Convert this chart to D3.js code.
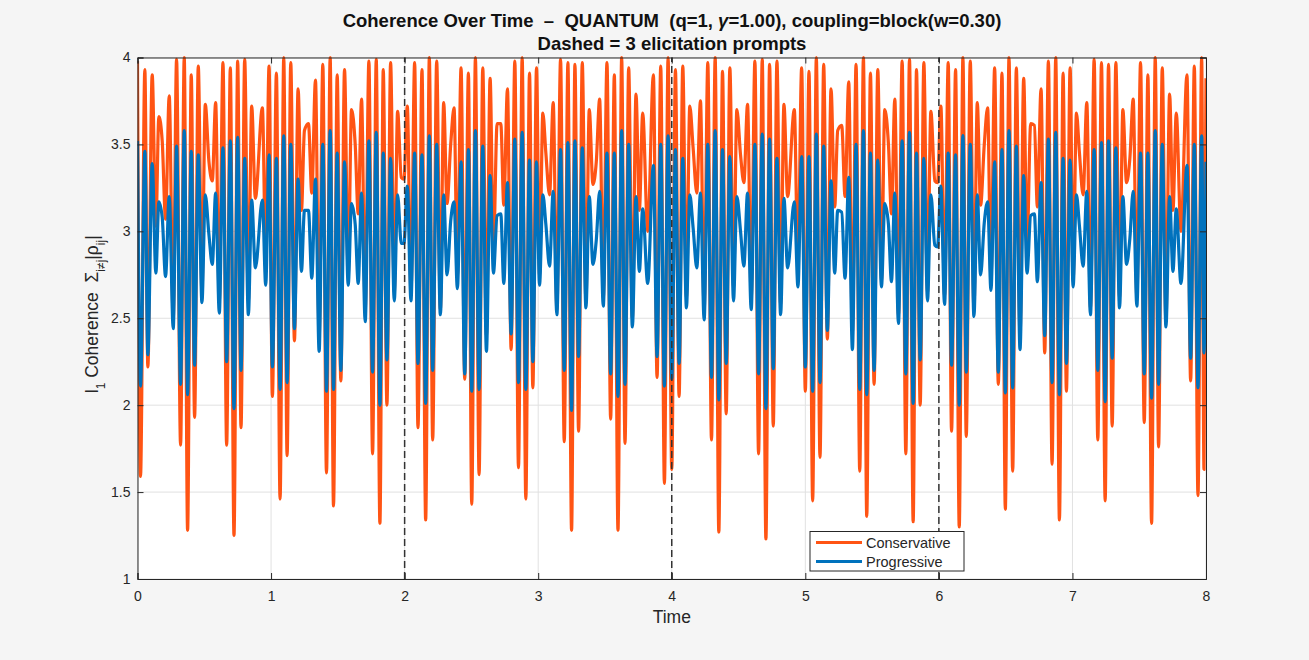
<!DOCTYPE html>
<html lang="en">
<head>
<meta charset="utf-8">
<title>Coherence Over Time</title>
<script src="https://cdn.jsdelivr.net/npm/d3@7"></script>
<style>
  body { margin: 0; background: #f5f5f5; }
  svg { font-family: "Liberation Sans", Arial, sans-serif; }
</style>
</head>
<body>
<script>
// turning points, t = 0..4
var timeA = [
  0, 0.0225, 0.055, 0.0775, 0.11, 0.1375, 0.16, 0.185, 0.21, 0.2375, 0.2675, 0.2925, 0.3225, 0.35, 0.375, 0.4025, 0.4275, 0.455, 0.4825, 0.5075, 0.535, 0.56, 0.585, 0.6125, 0.64, 0.6675, 0.695, 0.7225, 0.75, 0.775, 0.8025, 0.83, 0.855, 0.8825, 0.935, 0.96, 0.985,
  1.01, 1.04, 1.0675, 1.095, 1.12, 1.1475, 1.175, 1.2025, 1.2275, 1.25, 1.28, 1.305, 1.3325, 1.36, 1.3875, 1.415, 1.4425, 1.4675, 1.495, 1.5225, 1.55, 1.5775, 1.6025, 1.63, 1.6525, 1.6775, 1.705, 1.7325, 1.76, 1.7875, 1.815, 1.84, 1.8675, 1.895, 1.9225, 1.9475, 1.975, 1.995,
  2.02, 2.0475, 2.075, 2.10, 2.13, 2.1575, 2.185, 2.21, 2.24, 2.2675, 2.2925, 2.3175, 2.345, 2.37, 2.395, 2.4225, 2.45, 2.4775, 2.5025, 2.53, 2.5575, 2.585, 2.6125, 2.64, 2.665, 2.6925, 2.72, 2.7425, 2.77, 2.7975, 2.825, 2.8525, 2.88, 2.9075, 2.935, 2.96, 2.9875,
  3.01, 3.035, 3.0575, 3.085, 3.1125, 3.14, 3.1675, 3.195, 3.2225, 3.25, 3.275, 3.3025, 3.33, 3.3575, 3.3825, 3.41, 3.435, 3.46, 3.4875, 3.515, 3.5425, 3.57, 3.5975, 3.625, 3.65, 3.6775, 3.705, 3.7325, 3.7575, 3.7825, 3.82, 3.8625, 3.89, 3.9175, 3.945, 3.9725, 4.0
];
var conservativeA = [
  3.98, 1.59, 3.93, 2.22, 3.90, 3.03, 3.66, 3.52, 3.07, 3.78, 2.50, 3.99, 1.77, 4.00, 1.28, 3.90, 1.93, 3.95, 2.65, 3.73, 3.40, 3.29, 3.74, 2.60, 3.97, 1.77, 3.94, 1.25, 3.98, 1.87, 3.99, 2.60, 3.72, 3.19, 3.71, 2.85, 3.95,
  2.05, 3.91, 1.46, 4.00, 1.71, 3.97, 2.37, 3.82, 3.12, 3.58, 3.62, 3.22, 3.87, 2.40, 3.96, 1.61, 4.00, 1.42, 3.90, 2.14, 3.93, 2.75, 3.70, 3.50, 3.10, 3.76, 2.55, 3.98, 1.72, 3.99, 1.32, 3.93, 2.00, 3.97, 2.65, 3.69, 3.31, 3.30,
  3.72, 2.65, 3.97, 1.87, 3.93, 1.34, 4.00, 1.80, 3.98, 2.55, 3.74, 3.16, 3.50, 3.71, 2.75, 3.94, 2.15, 3.91, 1.43, 4.00, 1.60, 3.94, 2.40, 3.88, 2.90, 3.62, 3.62, 3.15, 3.82, 2.32, 3.98, 1.64, 4.00, 1.46, 3.91, 2.10, 3.94,
  2.75, 3.68, 3.45, 3.21, 3.74, 2.55, 3.99, 1.79, 3.97, 1.28, 3.96, 1.85, 3.97, 2.60, 3.70, 3.27, 3.40, 3.76, 2.62, 3.97, 1.92, 3.90, 1.28, 4.00, 1.78, 3.94, 2.50, 3.79, 3.12, 3.68, 3.00, 3.90, 2.16, 3.95, 1.55, 4.00, 1.63
];
var progressiveA = [
  3.52, 2.11, 3.46, 2.29, 3.39, 2.76, 3.17, 3.08, 2.74, 3.20, 2.44, 3.49, 2.12, 3.58, 2.06, 3.46, 2.23, 3.44, 2.59, 3.21, 2.98, 2.81, 3.22, 2.53, 3.48, 2.25, 3.52, 1.98, 3.54, 2.20, 3.42, 2.52, 3.18, 2.79, 3.18, 2.69, 3.44,
  2.22, 3.42, 2.09, 3.55, 2.13, 3.50, 2.44, 3.30, 2.77, 3.12, 3.12, 2.73, 3.30, 2.31, 3.50, 2.08, 3.58, 2.09, 3.45, 2.20, 3.40, 2.69, 3.16, 3.04, 2.70, 3.22, 2.48, 3.52, 2.19, 3.57, 2.00, 3.45, 2.26, 3.42, 2.60, 3.21, 2.93, 2.93,
  3.26, 2.60, 3.45, 2.24, 3.44, 2.01, 3.55, 2.20, 3.50, 2.52, 3.21, 2.75, 3.06, 3.17, 2.67, 3.40, 2.18, 3.47, 2.08, 3.58, 2.09, 3.49, 2.31, 3.32, 2.76, 3.09, 3.10, 2.70, 3.28, 2.41, 3.53, 2.13, 3.57, 2.09, 3.41, 2.25, 3.40,
  2.69, 3.21, 3.04, 2.80, 3.23, 2.52, 3.47, 2.20, 3.51, 1.97, 3.52, 2.28, 3.48, 2.56, 3.20, 2.81, 2.95, 3.23, 2.57, 3.45, 2.18, 3.45, 2.05, 3.58, 2.12, 3.50, 2.45, 3.20, 2.77, 3.13, 2.70, 3.38, 2.28, 3.50, 2.11, 3.55, 2.15
];

// turning points, t = 4..8
var timeB = [
  4.0275, 4.055, 4.0825, 4.11, 4.135, 4.16, 4.1875, 4.215, 4.2425, 4.27, 4.2975, 4.325, 4.3525, 4.38, 4.4075, 4.435, 4.4625, 4.4875, 4.515, 4.54, 4.5675, 4.595, 4.6225, 4.65, 4.6775, 4.705, 4.7325, 4.76, 4.7875, 4.815, 4.84, 4.8675, 4.9175, 4.945, 4.9725,
  5.0, 5.0275, 5.055, 5.0825, 5.11, 5.1375, 5.165, 5.1925, 5.22, 5.2425, 5.2725, 5.2975, 5.325, 5.3525, 5.38, 5.4075, 5.435, 5.46, 5.4875, 5.515, 5.5425, 5.57, 5.595, 5.6225, 5.645, 5.67, 5.6975, 5.725, 5.7525, 5.78, 5.8075, 5.8325, 5.86, 5.8875, 5.915, 5.94, 5.97, 5.99,
  6.015, 6.0425, 6.07, 6.095, 6.125, 6.1525, 6.18, 6.205, 6.235, 6.2625, 6.2875, 6.3125, 6.34, 6.365, 6.39, 6.4175, 6.445, 6.4725, 6.4975, 6.525, 6.5525, 6.58, 6.6075, 6.635, 6.66, 6.6875, 6.715, 6.7375, 6.765, 6.7925, 6.82, 6.8475, 6.875, 6.9025, 6.93, 6.955, 6.9825,
  7.005, 7.03, 7.0525, 7.08, 7.1075, 7.135, 7.1625, 7.19, 7.2175, 7.245, 7.27, 7.2975, 7.325, 7.3525, 7.3775, 7.405, 7.43, 7.455, 7.4825, 7.51, 7.5375, 7.565, 7.5925, 7.62, 7.645, 7.6725, 7.7, 7.7275, 7.7525, 7.7775, 7.8125, 7.8575, 7.885, 7.9125, 7.94, 7.9675, 7.985, 8.0
];
var conservativeB = [
  3.93, 2.05, 3.95, 2.62, 3.72, 3.48, 3.22, 3.75, 2.55, 3.97, 1.80, 4.00, 1.27, 3.92, 1.95, 3.94, 2.68, 3.70, 3.44, 3.28, 3.73, 2.62, 3.98, 1.72, 3.99, 1.23, 3.96, 1.88, 3.98, 2.58, 3.73, 3.20, 3.70, 2.80, 3.94,
  2.08, 3.92, 1.45, 4.00, 1.70, 3.96, 2.38, 3.82, 3.14, 3.58, 3.61, 3.20, 3.86, 2.42, 3.96, 1.62, 4.00, 1.36, 3.91, 2.12, 3.93, 2.72, 3.70, 3.50, 3.10, 3.76, 2.52, 3.98, 1.72, 3.99, 1.33, 3.93, 2.00, 3.97, 2.65, 3.69, 3.29, 3.28,
  3.72, 2.63, 3.97, 1.85, 3.93, 1.30, 4.00, 1.82, 3.98, 2.55, 3.74, 3.15, 3.50, 3.71, 2.73, 3.94, 2.12, 3.91, 1.40, 4.00, 1.62, 3.94, 2.40, 3.88, 2.92, 3.62, 3.61, 3.14, 3.82, 2.30, 3.98, 1.66, 4.00, 1.34, 3.91, 2.08, 3.94,
  2.72, 3.68, 3.45, 3.21, 3.74, 2.56, 3.99, 1.80, 3.97, 1.45, 3.96, 1.88, 3.97, 2.62, 3.70, 3.28, 3.42, 3.76, 2.62, 3.97, 1.90, 3.90, 1.32, 4.00, 1.76, 3.94, 2.48, 3.79, 3.12, 3.68, 3.00, 3.90, 2.14, 3.95, 1.48, 4.00, 1.63, 3.88
];
var progressiveB = [
  3.47, 2.24, 3.42, 2.56, 3.21, 3.02, 2.79, 3.22, 2.49, 3.50, 2.16, 3.58, 2.03, 3.47, 2.24, 3.43, 2.60, 3.20, 3.00, 2.80, 3.22, 2.55, 3.50, 2.18, 3.56, 1.98, 3.53, 2.21, 3.42, 2.52, 3.19, 2.79, 3.17, 2.68, 3.43,
  2.22, 3.43, 2.08, 3.56, 2.13, 3.49, 2.43, 3.29, 2.76, 3.12, 3.11, 2.73, 3.31, 2.32, 3.50, 2.09, 3.58, 2.06, 3.45, 2.20, 3.41, 2.68, 3.16, 3.04, 2.71, 3.22, 2.47, 3.52, 2.18, 3.57, 2.01, 3.45, 2.26, 3.42, 2.60, 3.21, 2.92, 2.91,
  3.26, 2.58, 3.45, 2.23, 3.44, 2.00, 3.55, 2.19, 3.50, 2.51, 3.21, 2.75, 3.05, 3.17, 2.66, 3.40, 2.19, 3.47, 2.07, 3.58, 2.10, 3.49, 2.32, 3.32, 2.76, 3.09, 3.10, 2.71, 3.28, 2.40, 3.53, 2.13, 3.57, 2.06, 3.42, 2.24, 3.41,
  2.68, 3.21, 3.03, 2.80, 3.23, 2.52, 3.47, 2.20, 3.51, 2.02, 3.52, 2.27, 3.48, 2.56, 3.20, 2.81, 2.96, 3.23, 2.57, 3.45, 2.18, 3.45, 2.04, 3.58, 2.12, 3.50, 2.45, 3.20, 2.77, 3.13, 2.70, 3.38, 2.27, 3.50, 2.10, 3.55, 2.30, 3.40
];

var promptTimes = [2, 4, 6];
var xTicks = [0, 1, 2, 3, 4, 5, 6, 7, 8];
var yTicks = [1, 1.5, 2, 2.5, 3, 3.5, 4];
var seriesNames = ["Conservative", "Progressive"];
var seriesColors = ["#ff5414", "#0072bd"];

var timePts = timeA.concat(timeB);
var conservative = conservativeA.concat(conservativeB);
var progressive = progressiveA.concat(progressiveB);

var W = 1309, H = 660;
var margin = {left: 137.5, right: 103, top: 57.5, bottom: 81};

var svg = d3.select("body").append("svg")
  .attr("width", W).attr("height", H);

svg.append("rect").attr("width", W).attr("height", H).attr("fill", "#f5f5f5");

var x = d3.scaleLinear().domain([0, 8]).range([margin.left, W - margin.right]);
var y = d3.scaleLinear().domain([1, 4]).range([H - margin.bottom, margin.top]);

// axes box
svg.append("rect")
  .attr("x", x(0)).attr("y", y(4))
  .attr("width", x(8) - x(0)).attr("height", y(1) - y(4))
  .attr("fill", "#ffffff");

// grid
svg.append("g").selectAll("line").data(xTicks).join("line")
  .attr("x1", d => x(d)).attr("x2", d => x(d))
  .attr("y1", y(1)).attr("y2", y(4))
  .attr("stroke", "#e1e1e1").attr("stroke-width", 1);
svg.append("g").selectAll("line").data(yTicks).join("line")
  .attr("x1", x(0)).attr("x2", x(8))
  .attr("y1", d => y(d)).attr("y2", d => y(d))
  .attr("stroke", "#e1e1e1").attr("stroke-width", 1);

svg.append("clipPath").attr("id", "plotclip").append("rect")
  .attr("x", x(0)).attr("y", y(4) - 2)
  .attr("width", x(8) - x(0)).attr("height", y(1) - y(4) + 4);

var line = d3.line().curve(d3.curveMonotoneX);
var plot = svg.append("g").attr("clip-path", "url(#plotclip)");

[conservative, progressive].forEach(function(vals, k) {
  var pts = [];
  timePts.forEach(function(t, i) {
    if (vals[i] !== undefined) pts.push([x(t), y(vals[i])]);
  });
  plot.append("path")
    .attr("d", line(pts))
    .attr("fill", "none")
    .attr("stroke", seriesColors[k])
    .attr("stroke-width", 3.2)
    .attr("stroke-linejoin", "round");
});

// prompt markers
svg.append("g").selectAll("line").data(promptTimes).join("line")
  .attr("x1", d => x(d)).attr("x2", d => x(d))
  .attr("y1", y(1)).attr("y2", y(4))
  .attr("stroke", "#333").attr("stroke-width", 1.5)
  .attr("stroke-dasharray", "7,4");

// axes lines + inward ticks (box on)
var axisB = d3.axisBottom(x).tickValues(xTicks).tickSize(-6).tickPadding(12).tickFormat(d3.format("d"));
var axisT = d3.axisTop(x).tickValues(xTicks).tickSize(-6).tickFormat("");
var axisL = d3.axisLeft(y).tickValues(yTicks).tickSize(-6).tickPadding(7).tickFormat(d => d);
var axisR = d3.axisRight(y).tickValues(yTicks).tickSize(-6).tickFormat("");

function styleAxis(g) {
  g.select(".domain").attr("stroke", "#262626").attr("stroke-width", 1);
  g.selectAll(".tick line").attr("stroke", "#262626");
  g.selectAll("text").attr("fill", "#262626").style("font-size", "14px")
    .style("font-family", "'Liberation Sans', Arial, sans-serif");
}
svg.append("g").attr("transform", "translate(0," + y(1) + ")").call(axisB).call(styleAxis);
svg.append("g").attr("transform", "translate(0," + y(4) + ")").call(axisT).call(styleAxis);
svg.append("g").attr("transform", "translate(" + x(0) + ",0)").call(axisL).call(styleAxis);
svg.append("g").attr("transform", "translate(" + x(8) + ",0)").call(axisR).call(styleAxis);

// titles
var t1 = svg.append("text").attr("x", 672).attr("y", 27).attr("text-anchor", "middle")
  .attr("xml:space", "preserve").style("white-space", "pre")
  .style("font-size", "18.5px").style("font-weight", "bold").attr("fill", "#111");
t1.append("tspan").text("Coherence Over Time  \u2013  QUANTUM  (q=1, ");
t1.append("tspan").style("font-style", "italic").text("\u03b3");
t1.append("tspan").text("=1.00), coupling=block(w=0.30)");
svg.append("text").attr("x", 672).attr("y", 50).attr("text-anchor", "middle")
  .style("font-size", "18.5px").style("font-weight", "bold").attr("fill", "#111")
  .text("Dashed = 3 elicitation prompts");

svg.append("text").attr("x", (x(0) + x(8)) / 2).attr("y", 623).attr("text-anchor", "middle")
  .style("font-size", "17.5px").attr("fill", "#262626").text("Time");

var yl = svg.append("text").attr("transform", "translate(98," + ((y(1) + y(4)) / 2 - 4) + ") rotate(-90)")
  .attr("text-anchor", "middle").attr("xml:space", "preserve").style("white-space", "pre")
  .style("font-size", "17.5px").attr("fill", "#262626");
yl.append("tspan").text("l");
yl.append("tspan").attr("baseline-shift", "sub").style("font-size", "12px").text("1");
yl.append("tspan").text(" Coherence  \u03a3");
yl.append("tspan").attr("baseline-shift", "sub").style("font-size", "12px").text("i\u2260j");
yl.append("tspan").text("|\u03c1");
yl.append("tspan").attr("baseline-shift", "sub").style("font-size", "12px").text("ij");
yl.append("tspan").text("|");

// legend
var lg = svg.append("g").attr("transform", "translate(810,531.5)");
lg.append("rect").attr("width", 154).attr("height", 39.5)
  .attr("fill", "#fff").attr("stroke", "#262626").attr("stroke-width", 1);
seriesNames.forEach(function(name, i) {
  var yy = 11 + i * 19;
  lg.append("line").attr("x1", 6).attr("x2", 52).attr("y1", yy).attr("y2", yy)
    .attr("stroke", seriesColors[i]).attr("stroke-width", 3.2);
  lg.append("text").attr("x", 56).attr("y", yy + 5).style("font-size", "14.5px")
    .attr("fill", "#262626").text(name);
});
</script>
</body>
</html>
